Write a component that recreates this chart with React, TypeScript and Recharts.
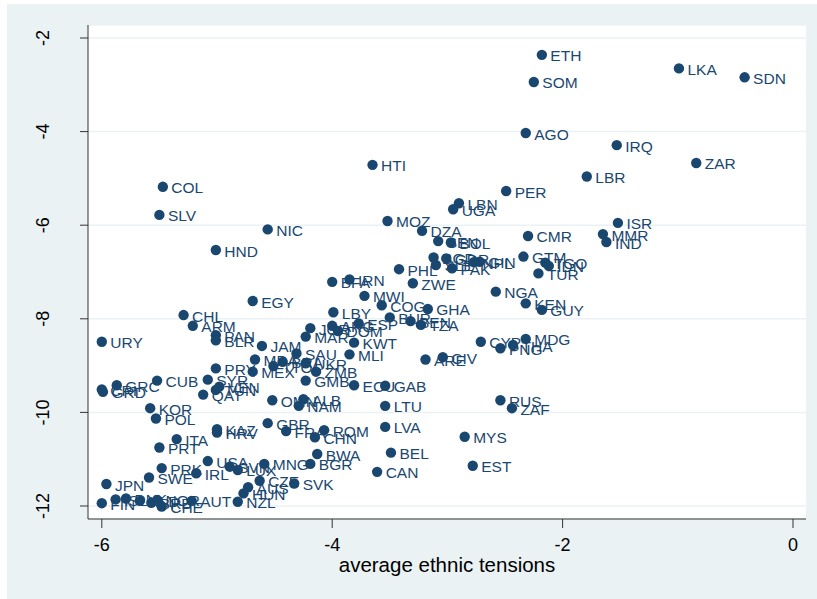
import { ScatterChart, Scatter, XAxis, YAxis, CartesianGrid } from 'recharts'

// Stata s2color look: navy markers, light blue-grey graph region, white plot region.
const NAVY = '#1a476f'
const REGION = '#eaf2f3'
const FONT = '"Liberation Sans", Arial, sans-serif'

const countries = [
  'ETH', 'SOM', 'LKA', 'SDN', 'AGO', 'IRQ', 'ZAR', 'LBR', 'PER', 'ISR',
  'MMR', 'IND', 'CMR', 'GTM', 'TGO', 'IDN', 'TUR', 'NGA', 'KEN', 'GUY',
  'LBN', 'UGA', 'MOZ', 'DZA', 'SEN', 'BOL', 'BGD', 'GDR', 'SLE', 'PAK',
  'NPL', 'GIN', 'PHL', 'ZWE', 'BFA', 'IRN', 'MWI', 'COG', 'GHA', 'LBY',
  'BUR', 'BEN', 'TZA', 'ESP', 'ARG', 'DOM', 'JOR', 'MAR', 'KWT', 'MLI',
  'ARE', 'CIV', 'CYP', 'MDG', 'PNG', 'THA', 'RUS', 'ZAF', 'MYS', 'EST',
  'HTI', 'COL', 'SLV', 'NIC', 'HND', 'EGY', 'CHL', 'ARM', 'PAN', 'BLR',
  'URY', 'JAM', 'SAU', 'MDA', 'MEX', 'TTO', 'BRA', 'UKR', 'ZMB', 'PRY',
  'SYR', 'TUN', 'VEN', 'QAT', 'GMB', 'ECU', 'GAB', 'LTU', 'LVA', 'BEL',
  'CAN', 'BWA', 'BGR', 'MNG', 'SVK', 'CZE', 'AUS', 'HUN', 'GBR', 'FRA',
  'ROM', 'CHN', 'OMN', 'ALB', 'NAM', 'GRC', 'CRI', 'GRD', 'CUB', 'KOR',
  'POL', 'ITA', 'PRT', 'KAZ', 'HRV', 'USA', 'PRK', 'SWE', 'IRL', 'SVN',
  'LUX', 'JPN', 'FIN', 'ISL', 'DNK', 'NLD', 'BRB', 'NOR', 'CHE', 'AUT',
  'NZL',
]

// average ethnic tensions (x)
const ethnicTensions = [
  -2.18, -2.25, -0.99, -0.42, -2.32, -1.53, -0.84, -1.79, -2.49, -1.52,
  -1.65, -1.62, -2.30, -2.34, -2.15, -2.12, -2.21, -2.58, -2.32, -2.18,
  -2.90, -2.95, -3.52, -3.22, -3.08, -2.97, -3.12, -3.01, -3.10, -2.96,
  -2.77, -2.72, -3.42, -3.30, -4.00, -3.85, -3.72, -3.57, -3.17, -3.99,
  -3.50, -3.32, -3.23, -3.77, -4.00, -3.95, -4.19, -4.23, -3.81, -3.85,
  -3.19, -3.04, -2.71, -2.32, -2.54, -2.43, -2.54, -2.44, -2.85, -2.78,
  -3.65, -5.47, -5.50, -4.56, -5.01, -4.69, -5.29, -5.21, -5.01, -5.01,
  -6.00, -4.61, -4.31, -4.67, -4.69, -4.51, -4.43, -4.23, -4.14, -5.01,
  -5.08, -5.01, -4.98, -5.12, -4.23, -3.81, -3.54, -3.54, -3.54, -3.49,
  -3.61, -4.13, -4.19, -4.59, -4.33, -4.63, -4.73, -4.77, -4.56, -4.40,
  -4.07, -4.15, -4.52, -4.25, -4.29, -5.87, -6.00, -5.99, -5.52, -5.58,
  -5.53, -5.35, -5.50, -5.00, -5.00, -5.08, -5.48, -5.59, -5.18, -4.89,
  -4.82, -5.96, -6.00, -5.88, -5.79, -5.67, -5.57, -5.52, -5.48, -5.22,
  -4.82,
]

// outcome on the vertical axis (y)
const outcome = [
  -2.36, -2.94, -2.65, -2.84, -4.03, -4.29, -4.67, -4.96, -5.27, -5.95,
  -6.19, -6.36, -6.23, -6.67, -6.80, -6.87, -7.03, -7.42, -7.67, -7.81,
  -5.53, -5.66, -5.91, -6.12, -6.34, -6.37, -6.69, -6.71, -6.85, -6.92,
  -6.79, -6.78, -6.94, -7.24, -7.21, -7.16, -7.51, -7.71, -7.79, -7.86,
  -7.97, -8.05, -8.13, -8.10, -8.15, -8.26, -8.20, -8.38, -8.51, -8.76,
  -8.87, -8.82, -8.49, -8.43, -8.63, -8.56, -9.74, -9.91, -10.52, -11.14,
  -4.71, -5.18, -5.78, -6.09, -6.53, -7.62, -7.92, -8.15, -8.35, -8.46,
  -8.49, -8.58, -8.74, -8.87, -9.13, -9.01, -8.92, -8.95, -9.13, -9.06,
  -9.30, -9.52, -9.45, -9.62, -9.32, -9.42, -9.43, -9.86, -10.31, -10.86,
  -11.27, -10.89, -11.10, -11.10, -11.52, -11.46, -11.60, -11.73, -10.23, -10.40,
  -10.38, -10.53, -9.74, -9.72, -9.86, -9.42, -9.51, -9.56, -9.32, -9.91,
  -10.13, -10.57, -10.75, -10.36, -10.43, -11.04, -11.19, -11.39, -11.30, -11.16,
  -11.23, -11.53, -11.94, -11.86, -11.84, -11.89, -11.93, -11.87, -12.01, -11.89,
  -11.91,
]

const xTicks = [-6, -4, -2, 0]
const yTicks = [-12, -10, -8, -6, -4, -2]

const points = countries.map((code, i) => ({ code, x: ethnicTensions[i], y: outcome[i] }))

// marker + label at 3 o'clock, like mlabel() in Stata
function LabelledDot(props: any) {
  const { cx, cy, payload } = props
  return (
    <g>
      <text
        x={cx + 8.5}
        y={cy + 1}
        fill={NAVY}
        fontSize={15.5}
        fontFamily={FONT}
        dominantBaseline="central"
      >
        {payload.code}
      </text>
      <circle cx={cx} cy={cy} r={5.2} fill={NAVY} />
    </g>
  )
}

function YTick(props: any) {
  const { y, payload } = props
  const cx = 43
  return (
    <text
      x={cx}
      y={y}
      transform={`rotate(-90 ${cx} ${y})`}
      textAnchor="middle"
      dominantBaseline="central"
      fill="#000"
      fontSize={18}
      fontFamily={FONT}
    >
      {payload.value}
    </text>
  )
}

function XTick(props: any) {
  const { x, payload } = props
  return (
    <text
      x={x}
      y={545}
      textAnchor="middle"
      dominantBaseline="central"
      fill="#000"
      fontSize={18}
      fontFamily={FONT}
    >
      {payload.value}
    </text>
  )
}

export default function App() {
  return (
    <div style={{ position: 'absolute', left: 0, top: 0, width: 817, height: 599, background: '#fff' }}>
      <div style={{ position: 'absolute', left: 7, top: 4, right: 0, bottom: 0, background: REGION }} />
      <div style={{ position: 'absolute', left: 0, top: 0 }}>
        <ScatterChart width={817} height={599} margin={{ top: 25, right: 11, bottom: 0, left: 8 }}>
          <CartesianGrid fill="#fff" stroke={REGION} strokeWidth={1.5} vertical={false} />
          <XAxis
            type="number"
            dataKey="x"
            domain={[-6.1198, 0.1128]}
            ticks={xTicks}
            allowDataOverflow
            height={80}
            tickSize={9}
            tick={<XTick />}
            axisLine={{ stroke: '#333', strokeWidth: 1 }}
            tickLine={{ stroke: '#333', strokeWidth: 1 }}
            label={{
              value: 'average ethnic tensions',
              position: 'insideBottom',
              offset: 27,
              fill: '#000',
              fontSize: 20.5,
              fontFamily: FONT,
            }}
          />
          <YAxis
            type="number"
            dataKey="y"
            domain={[-12.2778, -1.7222]}
            ticks={yTicks}
            allowDataOverflow
            width={80}
            tickSize={8}
            tick={<YTick />}
            axisLine={{ stroke: '#333', strokeWidth: 1 }}
            tickLine={{ stroke: '#333', strokeWidth: 1 }}
          />
          <Scatter data={points} shape={<LabelledDot />} isAnimationActive={false} />
        </ScatterChart>
      </div>
    </div>
  )
}
